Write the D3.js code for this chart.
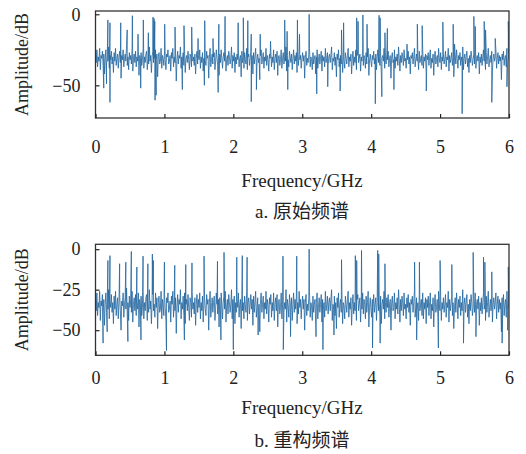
<!DOCTYPE html>
<html><head><meta charset="utf-8">
<script src="https://cdn.jsdelivr.net/npm/d3@7/dist/d3.min.js"></script>
<style>body{margin:0;background:#fff}svg{display:block}</style>
</head><body><svg id="c" width="526" height="454"></svg>
<script>
// ---------- data ----------
const xTicks = [0,1,2,3,4,5,6];
const yTicksA = [0,-50];
const yTicksB = [0,-25,-50];
const captionA = "a. 原始频谱";
const captionB = "b. 重构频谱";
const xTitle = "Frequency/GHz";
const yTitle = "Amplitude/dB";

// noise floor, original spectrum (evenly spaced over 0–6 GHz)
const noiseA = [
-27,-34,-25,-37,-30,-33,-24,-39,-29,-31,-26,-36,-28,-42,-31,-25,-35,-30,-33,-23,
-38,-29,-32,-26,-35,-30,-41,-27,-33,-24,-36,-31,-28,-38,-30,-26,-34,-45,-29,-32,
-25,-37,-31,-28,-33,-22,-36,-30,-39,-27,-32,-29,-35,-24,-40,-31,-28,-34,-26,-37,
-30,-33,-25,-43,-29,-31,-27,-36,-32,-24,-38,-30,-34,-28,-26,-39,-31,-35,-23,-33,
-29,-41,-30,-26,-34,-31,-37,-25,-32,-28,-44,-30,-27,-35,-33,-24,-38,-29,-31,-36,
-26,-32,-39,-28,-30,-25,-35,-33,-29,-40,-27,-31,-24,-37,-30,-34,-28,-47,-32,-26,
-35,-29,-31,-23,-38,-30,-33,-27,-36,-25,-41,-31,-29,-34,-26,-32,-39,-28,-30,-37,
-24,-33,-30,-36,-28,-42,-31,-26,-35,-29,-32,-25,-38,-30,-34,-27,-40,-31,-28,-33,
-36,-26,-31,-29,-45,-30,-24,-37,-32,-28,-35,-30,-27,-39,-33,-25,-31,-36,-29,-43,
-28,-34,-25,-31,-38,-30,-27,-33,-24,-40,-32,-29,-36,-26,-30,-35,-31,-23,-38,-29,
-33,-27,-41,-30,-35,-28,-32,-25,-37,-31,-29,-44,-26,-34,-30,-38,-27,-32,-35,-24,
-39,-30,-28,-36,-31,-26,-33,-29,-42,-27,-35,-30,-24,-37,-32,-28,-34,-31,-46,-29,
-25,-35,-31,-27,-38,-30,-33,-24,-36,-29,-32,-40,-28,-31,-26,-37,-30,-34,-25,-39,
-31,-28,-34,-26,-43,-30,-29,-36,-32,-25,-38,-31,-27,-35,-30,-33,-23,-40,-29,-32,
-37,-26,-30,-34,-28,-39,-31,-25,-35,-29,-33,-27,-41,-30,-36,-24,-32,-29,-38,-31,
-27,-33,-29,-45,-30,-26,-36,-31,-34,-28,-24,-37,-30,-32,-39,-27,-35,-31,-29,-42,
-30,-25,-38,-32,-28,-35,-31,-26,-40,-29,-33,-30,-37,-24,-34,-31,-27,-36,-30,-28,
-34,-29,-23,-39,-31,-33,-27,-36,-30,-44,-28,-32,-25,-37,-31,-29,-35,-26,-41,-30,
-32,-38,-27,-31,-35,-29,-24,-37,-30,-33,-28,-42,-31,-26,-36,-30,-34,-25,-39,-29,
-26,-34,-31,-28,-40,-30,-33,-25,-36,-29,-31,-38,-27,-35,-30,-24,-43,-32,-28,-33,
-37,-29,-32,-26,-35,-31,-28,-39,-30,-25,-34,-30,-36,-27,-41,-31,-29,-33,-24,-38,
-30,-35,-28,-32,-26,-37,-31,-29,-45,-30,-27,-34,-32,-25,-38,-30,-33,-28,-36,-23,
-31,-40,-29,-34,-27,-30,-36,-25,-33,-31,-38,-28,-32,-26,-35,-30,-42,-29,-31,-27,
-35,-30,-24,-37,-32,-28,-33,-30,-39,-26,-34,-31,-29,-36,-25,-38,-30,-33,-28,-41,
-29,-32,-27,-36,-30,-25,-38,-31,-34,-28,-43,-30,-26,-35,-32,-29,-37,-24,-31,-34,
-27,-39,-30,-33,-28,-35,-31,-26,-37,-30,-32,-24,-40,-29,-34,-31,-27,-36,-30,-44,
-33,-28,-35,-25,-31,-38,-29,-32,-27,-36,-30,-34,-23,-39,-31,-28,-35,-30,-26,-37,
-31,-41,-29,-34,-26,-30,-36,-32,-28,-35,-25,-38,-31,-29,-33,-27,-42,-30,-34,-28,
-36,-30,-25,-33,-31,-39,-27,-35,-30,-24,-37,-32,-29,-34,-26,-40,-31,-28,-33,-30,
-25,-38,-31,-27,-35,-29,-33,-30,-46,-28,-32,-26,-36,-31,-29,-37,-24,-34,-30,-32];

// noise floor, reconstructed spectrum
const noiseB = [
-30,-38,-27,-41,-33,-36,-26,-44,-32,-35,-28,-40,-31,-47,-34,-27,-39,-33,-37,-25,
-43,-32,-36,-28,-39,-33,-46,-29,-37,-26,-41,-34,-30,-43,-33,-28,-38,-50,-32,-35,
-27,-42,-34,-30,-37,-24,-40,-33,-44,-29,-36,-31,-39,-26,-45,-34,-30,-38,-28,-41,
-33,-37,-27,-48,-31,-35,-29,-41,-36,-26,-43,-33,-38,-30,-28,-44,-34,-39,-25,-37,
-32,-46,-33,-28,-38,-34,-42,-27,-36,-30,-49,-33,-29,-39,-37,-26,-43,-31,-35,-41,
-28,-36,-44,-30,-33,-27,-39,-37,-32,-45,-29,-34,-26,-42,-33,-38,-30,-52,-35,-28,
-39,-31,-34,-25,-43,-33,-37,-29,-41,-27,-46,-34,-31,-38,-28,-36,-44,-30,-33,-42,
-26,-37,-33,-40,-30,-47,-34,-28,-39,-31,-36,-27,-43,-33,-38,-29,-45,-34,-30,-37,
-41,-28,-34,-31,-50,-33,-26,-42,-36,-30,-39,-33,-29,-44,-37,-27,-34,-40,-31,-48,
-30,-38,-27,-34,-43,-33,-29,-37,-26,-45,-35,-31,-40,-28,-33,-39,-34,-25,-43,-31,
-37,-29,-46,-33,-39,-30,-36,-27,-42,-34,-31,-49,-28,-38,-33,-43,-29,-35,-39,-26,
-44,-33,-30,-40,-34,-28,-37,-31,-47,-29,-39,-33,-26,-42,-36,-30,-38,-34,-51,-31,
-27,-39,-34,-29,-43,-33,-37,-26,-40,-31,-35,-45,-30,-34,-28,-42,-33,-38,-27,-44,
-34,-30,-38,-28,-48,-33,-31,-40,-36,-27,-43,-34,-29,-39,-33,-37,-25,-45,-31,-35,
-42,-28,-33,-38,-30,-44,-34,-27,-39,-31,-37,-29,-46,-33,-40,-26,-36,-31,-43,-34,
-29,-37,-31,-50,-33,-28,-41,-34,-38,-30,-26,-42,-33,-35,-44,-29,-39,-34,-31,-47,
-33,-27,-43,-36,-30,-39,-34,-28,-45,-31,-37,-33,-42,-26,-38,-34,-29,-40,-33,-30,
-38,-31,-25,-44,-34,-37,-29,-41,-33,-49,-30,-36,-27,-42,-34,-31,-39,-28,-46,-33,
-35,-43,-29,-34,-39,-31,-26,-42,-33,-37,-30,-47,-34,-28,-40,-33,-38,-27,-44,-31,
-28,-38,-34,-30,-45,-33,-37,-27,-40,-31,-34,-43,-29,-39,-33,-26,-48,-36,-30,-37,
-42,-31,-36,-28,-39,-34,-30,-44,-33,-27,-38,-33,-41,-29,-46,-34,-31,-37,-26,-43,
-33,-39,-30,-36,-28,-42,-34,-31,-50,-33,-29,-38,-36,-27,-43,-33,-37,-30,-40,-25,
-34,-45,-31,-38,-29,-33,-41,-27,-37,-34,-43,-30,-36,-28,-39,-33,-47,-31,-34,-29,
-39,-33,-26,-42,-36,-30,-37,-33,-44,-28,-38,-34,-31,-41,-27,-43,-33,-37,-30,-46,
-31,-36,-29,-41,-33,-27,-43,-34,-38,-30,-48,-33,-28,-39,-36,-31,-42,-26,-34,-38,
-29,-44,-33,-37,-30,-39,-34,-28,-42,-33,-36,-26,-45,-31,-38,-34,-29,-41,-33,-49,
-37,-30,-39,-27,-34,-43,-31,-36,-29,-41,-33,-38,-25,-44,-34,-30,-39,-33,-28,-42,
-34,-46,-31,-38,-28,-33,-41,-36,-30,-39,-27,-43,-34,-31,-37,-29,-47,-33,-38,-30,
-40,-33,-27,-37,-34,-44,-29,-39,-33,-26,-42,-36,-31,-38,-28,-45,-34,-30,-37,-33,
-27,-43,-34,-29,-39,-31,-37,-33,-51,-30,-36,-28,-41,-34,-31,-42,-26,-38,-33,-36];

// spikes and dips [GHz, dB]
const spikesA = [[0.18,-4],[0.21,-6],[0.366,-6],[0.46,-11],[0.535,-1],[0.617,-14],[0.694,-4],
[0.767,-13],[0.835,-2],[0.85,-3],[0.86,-5],[1.004,-7],[1.154,-9],[1.284,-8],[1.396,-9],[1.488,-17],
[1.585,-4.5],[1.705,-17],[1.79,-7],[1.88,-1.5],[2.07,-6],[2.145,-2.5],[2.21,-4.5],[2.26,-14],
[2.39,-14],[2.54,-19],[2.745,-4],[2.78,-12],[2.93,-4],[2.96,-14],[3.10,0],[3.57,-11],[3.60,-6],
[3.79,-2.5],[3.81,-5],[3.88,-0.5],[3.94,-7],[4.115,-0.7],[4.13,-2.5],[4.20,-13],[4.235,-10],
[4.52,-21],[4.67,-7],[4.74,-8],[5.04,-5.5],[5.19,-7],[5.21,-21],[5.49,-1.5],[5.51,-8.5],
[5.64,-5],[5.66,-11],[5.80,-17],[5.99,-5]];
const dipsA = [[0.12,-52],[0.16,-49],[0.21,-62],[0.656,-52],[0.864,-60.5],[0.88,-57],[1.26,-53],
[1.58,-50],[1.78,-55],[2.26,-61.5],[2.335,-53],[2.79,-53],[3.21,-56],[3.37,-51],[3.55,-54],
[4.06,-63],[4.155,-58],[4.33,-53],[4.8,-54],[5.32,-70],[5.75,-62],[5.97,-51]];

const spikesB = [[0.18,-7],[0.21,-4],[0.35,-9],[0.44,-8],[0.52,-1.4],[0.60,-11],[0.69,-4.3],
[0.76,-9],[0.825,-3],[0.84,-7],[1.0,-8],[1.15,-10],[1.31,-9.5],[1.40,-8.5],[1.575,-4.3],
[1.77,-7.5],[1.865,-2],[2.05,-5],[2.13,-4],[2.20,-5],[2.72,-4.3],[2.92,-4.3],[3.10,0],
[3.57,-6.5],[3.77,-4],[3.79,-7],[3.86,-0.8],[4.095,-0.8],[4.11,-3],[4.20,-9],[4.63,-8],
[4.70,-8],[5.0,-7],[5.17,-9.5],[5.48,-2],[5.63,-5],[5.65,-8],[5.75,-14],[5.99,-11]];
const dipsB = [[0.11,-58],[0.17,-51],[0.47,-57],[0.66,-56],[1.03,-62.5],[1.29,-56],[1.82,-56],
[2.0,-62],[2.36,-53],[2.725,-62],[2.83,-54],[3.2,-54],[3.30,-62],[3.46,-53],[4.02,-61],
[4.13,-58],[4.66,-56],[4.975,-61],[5.34,-58],[5.52,-54],[5.9,-58],[5.98,-50]];

// ---------- drawing ----------
const svg = d3.select("#c");
const serif = "'Liberation Serif','Times New Roman',serif";
const cjk = "'Noto Sans CJK SC',sans-serif";
const x = d3.scaleLinear().domain([0,6]).range([95.5,509]);

function panel(id, noise, spikes, dips, yDom, yRange, yTicks, tickBase, titleBase, capBase, caption) {
  const y = d3.scaleLinear().domain(yDom).range(yRange);
  const g = svg.append("g");
  const top = yRange[1], bot = yRange[0];
  g.append("clipPath").attr("id","clip"+id).append("rect")
    .attr("x",x(0)).attr("y",top).attr("width",x(6)-x(0)).attr("height",bot-top);
  const n = noise.length;
  const pts = noise.map((v,i)=>[i*6/(n-1), v]).concat(spikes, dips).sort((a,b)=>a[0]-b[0]);
  g.append("path").datum(pts)
    .attr("clip-path","url(#clip"+id+")")
    .attr("fill","none").attr("stroke","#21659e").attr("stroke-width",0.9)
    .attr("stroke-opacity",0.9).attr("stroke-linejoin","miter")
    .attr("d", d3.line().x(d=>x(d[0])).y(d=>y(d[1])));
  // frame
  g.append("rect").attr("x",x(0)).attr("y",top).attr("width",x(6)-x(0)).attr("height",bot-top)
    .attr("fill","none").attr("stroke","#333").attr("stroke-width",1.3);
  // x axis
  const xa = g.append("g").attr("transform",`translate(0,${bot})`)
    .call(d3.axisBottom(x).tickValues(xTicks).tickSizeInner(-4).tickSizeOuter(0).tickFormat(d3.format("d")));
  xa.select(".domain").remove();
  xa.selectAll("line").attr("stroke","#222").attr("stroke-width",1.2);
  xa.selectAll("text").attr("y",null).attr("dy",null).attr("transform",`translate(0,${tickBase-bot})`)
    .style("font-family",serif).style("font-size","18px").attr("fill","#222");
  // y axis
  const ya = g.append("g").attr("transform",`translate(${x(0)},0)`)
    .call(d3.axisLeft(y).tickValues(yTicks).tickSizeInner(-4).tickSizeOuter(0).tickPadding(15)
      .tickFormat(d=> d<0 ? "\u2212"+Math.abs(d) : String(d)));
  ya.select(".domain").remove();
  ya.selectAll("line").attr("stroke","#222").attr("stroke-width",1.2);
  ya.selectAll("text").style("font-family",serif).style("font-size","18px").attr("fill","#222");
  // titles
  g.append("text").attr("x",302).attr("y",titleBase).attr("text-anchor","middle")
    .style("font-family",serif).style("font-size","19px").attr("fill","#222").text(xTitle);
  const cap = g.append("text").attr("x",302).attr("y",capBase).attr("text-anchor","middle")
    .style("font-size","19px").attr("fill","#222");
  cap.append("tspan").style("font-family",serif).text(caption.slice(0,3));
  cap.append("tspan").style("font-family",cjk).text(caption.slice(3));
  g.append("text").attr("transform",`translate(28,${(top+bot)/2}) rotate(-90)`)
    .attr("text-anchor","middle").style("font-family",serif).style("font-size","18px")
    .attr("fill","#222").text(yTitle);
}

panel("a", noiseA, spikesA, dipsA, [-73,2.3], [118,11], yTicksA, 153, 187, 218, captionA);
panel("b", noiseB, spikesB, dipsB, [-65.5,3], [355.3,244.3], yTicksB, 384, 414, 447, captionB);
</script></body></html>
